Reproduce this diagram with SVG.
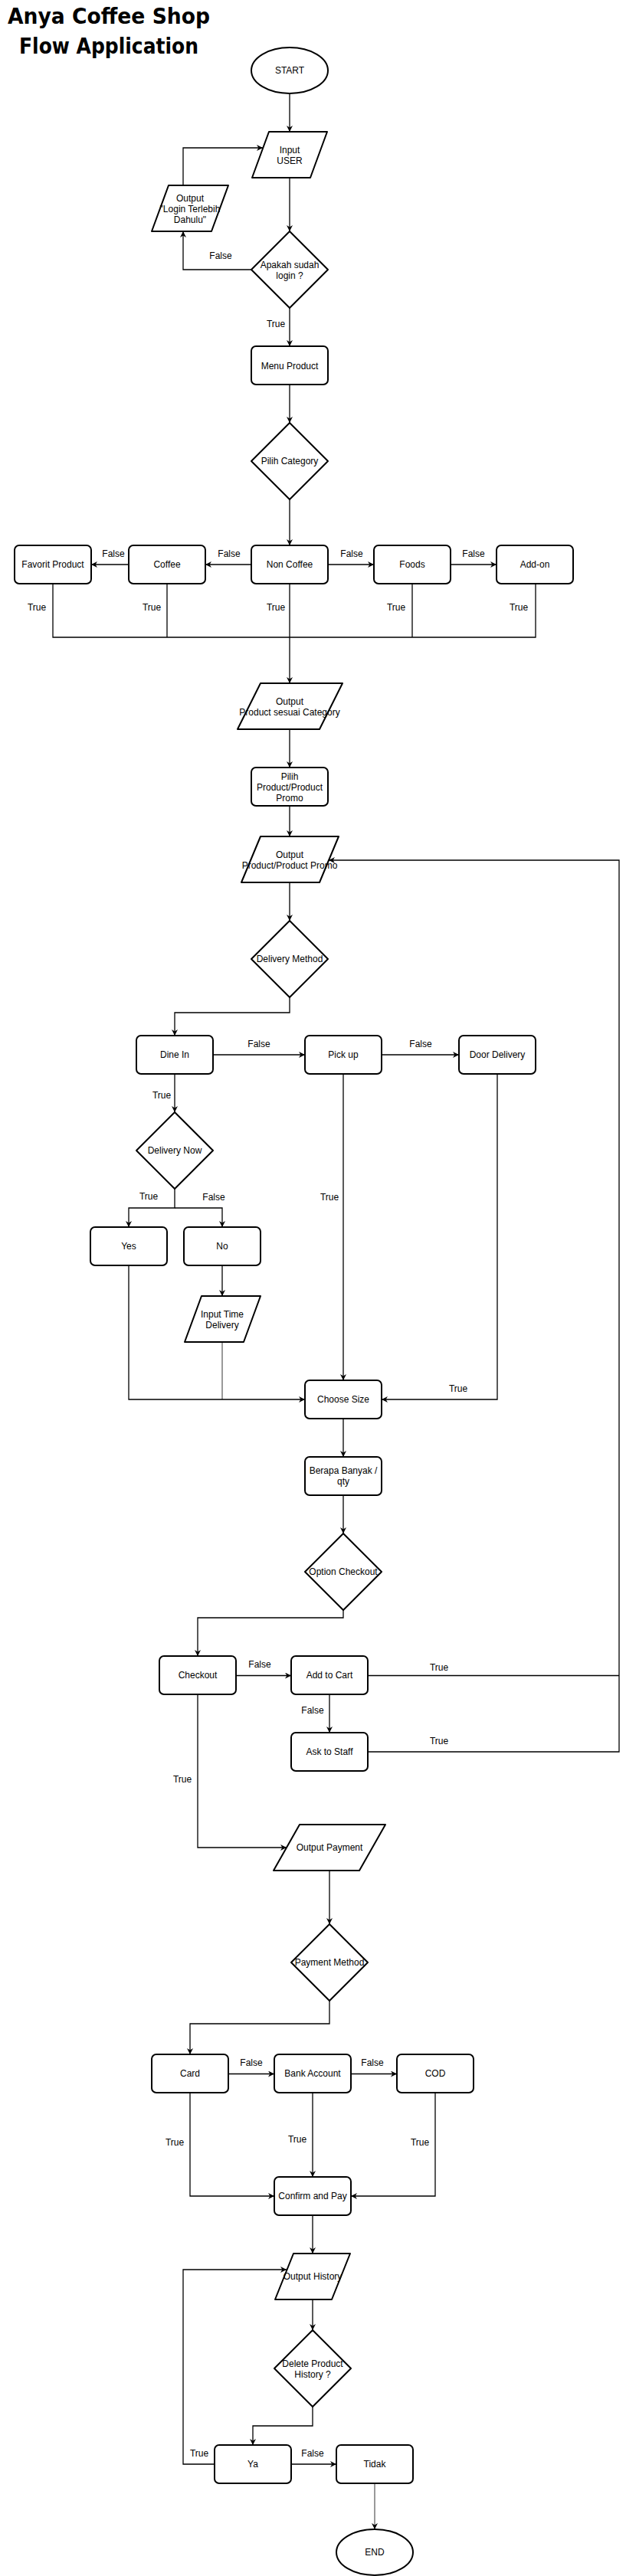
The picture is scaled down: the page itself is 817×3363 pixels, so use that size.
<svg xmlns="http://www.w3.org/2000/svg" width="817" height="3363" viewBox="0 0 817 3363">
<style>
.bg{fill:#fff}
.n{fill:#fff;stroke:#000;stroke-width:2;stroke-linejoin:round}
.t{font-family:"Liberation Sans",Arial,sans-serif;font-size:12px;text-anchor:middle;fill:#000}
.l{font-family:"Liberation Sans",Arial,sans-serif;font-size:12px;text-anchor:middle;fill:#000}
.c{fill:none;stroke:#000;stroke-width:1.3}
.thin{stroke-width:0.8}
.a{marker-end:url(#arr)}
.title{font-family:"Comic Sans MS","DejaVu Sans",sans-serif;font-size:28px;font-weight:bold;text-anchor:middle;fill:#000}
</style>
<defs>
<marker id="arr" viewBox="0 0 10 10" refX="10" refY="5" markerWidth="8" markerHeight="8" markerUnits="userSpaceOnUse" orient="auto"><path d="M0,0 L10,5 L0,10 L3,5 z" fill="#000"/></marker>
</defs>
<rect class="bg" x="0" y="0" width="817" height="3363"/>
<g id="title">
<text class="title" x="142" y="31" textLength="264" lengthAdjust="spacingAndGlyphs">Anya Coffee Shop</text>
<text class="title" x="142" y="70" textLength="234" lengthAdjust="spacingAndGlyphs">Flow Application</text>
</g>
<g id="connectors">
<path class="c a" d="M378 122 V172"/>
<path class="c a" d="M378 232 V302"/>
<path class="c a" d="M329 352 H239 V302"/>
<path class="c a" d="M239 242 V193 H343"/>
<path class="c a" d="M378 402 V452"/>
<path class="c a" d="M378 502 V552"/>
<path class="c a" d="M378 652 V712"/>
<path class="c a" d="M328 737 H268"/>
<path class="c a" d="M168 737 H119"/>
<path class="c a" d="M428 737 H488"/>
<path class="c a" d="M588 737 H648"/>
<path class="c" d="M69 762 V832 H699 V762"/>
<path class="c" d="M218 762 V832"/>
<path class="c" d="M538 762 V832"/>
<path class="c a" d="M378 762 V892"/>
<path class="c a" d="M378 952 V1002"/>
<path class="c a" d="M378 1052 V1092"/>
<path class="c a" d="M378 1152 V1202"/>
<path class="c a" d="M378 1302 V1322 H228 V1352"/>
<path class="c a" d="M278 1377 H398"/>
<path class="c a" d="M498 1377 H599"/>
<path class="c a" d="M228 1402 V1452"/>
<path class="c a" d="M228 1552 V1577 H168 V1602"/>
<path class="c a" d="M228 1577 H290 V1602"/>
<path class="c a" d="M290 1652 V1692"/>
<path class="c a" d="M168 1652 V1827 H398"/>
<path class="c thin" d="M290 1752 V1827"/>
<path class="c a" d="M448 1402 V1802"/>
<path class="c a" d="M649 1402 V1827 H498"/>
<path class="c a" d="M448 1852 V1902"/>
<path class="c a" d="M448 1952 V2002"/>
<path class="c a" d="M448 2102 V2112 H258 V2162"/>
<path class="c a" d="M308 2187.5 H380"/>
<path class="c" d="M480 2187.5 H808"/>
<path class="c a" d="M430 2212 V2262"/>
<path class="c a" d="M480 2287 H808 V1123 H429"/>
<path class="c a" d="M258 2212 V2412 H374"/>
<path class="c a" d="M430 2442 V2512"/>
<path class="c a" d="M430 2612 V2642 H248 V2682"/>
<path class="c a" d="M298 2707.5 H358"/>
<path class="c a" d="M458 2707.5 H518"/>
<path class="c a" d="M248 2732 V2867 H358"/>
<path class="c a" d="M408 2732 V2842"/>
<path class="c a" d="M568 2732 V2867 H458"/>
<path class="c a" d="M408 2892 V2942"/>
<path class="c a" d="M408 3002 V3042"/>
<path class="c a" d="M408 3142 V3167 H330 V3192"/>
<path class="c a" d="M380 3217 H439"/>
<path class="c a" d="M280 3217 H239 V2963 H374"/>
<path class="c thin a" d="M489 3242 V3302"/>
</g>
<g id="edge-labels">
<text class="l" x="288" y="338">False</text>
<text class="l" x="360" y="427">True</text>
<text class="l" x="148" y="727">False</text>
<text class="l" x="299" y="727">False</text>
<text class="l" x="459" y="727">False</text>
<text class="l" x="618" y="727">False</text>
<text class="l" x="48" y="797">True</text>
<text class="l" x="198" y="797">True</text>
<text class="l" x="360" y="797">True</text>
<text class="l" x="517" y="797">True</text>
<text class="l" x="677" y="797">True</text>
<text class="l" x="338" y="1367">False</text>
<text class="l" x="549" y="1367">False</text>
<text class="l" x="211" y="1434">True</text>
<text class="l" x="194" y="1566">True</text>
<text class="l" x="279" y="1567">False</text>
<text class="l" x="430" y="1567">True</text>
<text class="l" x="598" y="1817">True</text>
<text class="l" x="339" y="2177">False</text>
<text class="l" x="573" y="2181">True</text>
<text class="l" x="408" y="2237">False</text>
<text class="l" x="573" y="2277">True</text>
<text class="l" x="238" y="2327">True</text>
<text class="l" x="328" y="2697">False</text>
<text class="l" x="486" y="2697">False</text>
<text class="l" x="228" y="2801">True</text>
<text class="l" x="388" y="2797">True</text>
<text class="l" x="548" y="2801">True</text>
<text class="l" x="408" y="3207">False</text>
<text class="l" x="260" y="3207">True</text>
</g>
<g id="start"><ellipse class="n" cx="378" cy="92" rx="50" ry="30"/><text class="t" x="378" y="96">START</text></g>
<g id="input-user"><path class="n" d="M351 172 H427 L405 232 H329 Z"/><text class="t" x="378" y="200">Input</text><text class="t" x="378" y="214">USER</text></g>
<g id="output-login"><path class="n" d="M220 242 H298 L276 302 H198 Z"/><text class="t" x="248" y="263">Output</text><text class="t" x="248" y="277">"Login Terlebih</text><text class="t" x="248" y="291">Dahulu"</text></g>
<g id="apakah-login"><path class="n" d="M378 302 L428 352 L378 402 L328 352 Z"/><text class="t" x="378" y="350">Apakah sudah</text><text class="t" x="378" y="364">login ?</text></g>
<g id="menu-product"><rect class="n" x="328" y="452" width="100" height="50" rx="6"/><text class="t" x="378" y="482">Menu Product</text></g>
<g id="pilih-category"><path class="n" d="M378 552 L428 602 L378 652 L328 602 Z"/><text class="t" x="378" y="606">Pilih Category</text></g>
<g id="favorit-product"><rect class="n" x="19" y="712" width="100" height="50" rx="6"/><text class="t" x="69" y="741">Favorit Product</text></g>
<g id="coffee"><rect class="n" x="168" y="712" width="100" height="50" rx="6"/><text class="t" x="218" y="741">Coffee</text></g>
<g id="non-coffee"><rect class="n" x="328" y="712" width="100" height="50" rx="6"/><text class="t" x="378" y="741">Non Coffee</text></g>
<g id="foods"><rect class="n" x="488" y="712" width="100" height="50" rx="6"/><text class="t" x="538" y="741">Foods</text></g>
<g id="add-on"><rect class="n" x="648" y="712" width="100" height="50" rx="6"/><text class="t" x="698" y="741">Add-on</text></g>
<g id="output-category"><path class="n" d="M340 892 H447 L417 952 H310 Z"/><text class="t" x="378" y="920">Output</text><text class="t" x="378" y="934">Product sesuai Category</text></g>
<g id="pilih-product"><rect class="n" x="328" y="1002" width="100" height="50" rx="6"/><text class="t" x="378" y="1018">Pilih</text><text class="t" x="378" y="1032">Product/Product</text><text class="t" x="378" y="1046">Promo</text></g>
<g id="output-promo"><path class="n" d="M340 1092 H442 L417 1152 H315 Z"/><text class="t" x="378" y="1120">Output</text><text class="t" x="378" y="1134">Product/Product Promo</text></g>
<g id="delivery-method"><path class="n" d="M378 1202 L428 1252 L378 1302 L328 1252 Z"/><text class="t" x="378" y="1256">Delivery Method</text></g>
<g id="dine-in"><rect class="n" x="178" y="1352" width="100" height="50" rx="6"/><text class="t" x="228" y="1381">Dine In</text></g>
<g id="pick-up"><rect class="n" x="398" y="1352" width="100" height="50" rx="6"/><text class="t" x="448" y="1381">Pick up</text></g>
<g id="door-delivery"><rect class="n" x="599" y="1352" width="100" height="50" rx="6"/><text class="t" x="649" y="1381">Door Delivery</text></g>
<g id="delivery-now"><path class="n" d="M228 1452 L278 1502 L228 1552 L178 1502 Z"/><text class="t" x="228" y="1506">Delivery Now</text></g>
<g id="yes"><rect class="n" x="118" y="1602" width="100" height="50" rx="6"/><text class="t" x="168" y="1631">Yes</text></g>
<g id="no"><rect class="n" x="240" y="1602" width="100" height="50" rx="6"/><text class="t" x="290" y="1631">No</text></g>
<g id="input-time"><path class="n" d="M263 1692 H340 L318 1752 H241 Z"/><text class="t" x="290" y="1720">Input Time</text><text class="t" x="290" y="1734">Delivery</text></g>
<g id="choose-size"><rect class="n" x="398" y="1802" width="100" height="50" rx="6"/><text class="t" x="448" y="1831">Choose Size</text></g>
<g id="berapa-banyak"><rect class="n" x="398" y="1902" width="100" height="50" rx="6"/><text class="t" x="448" y="1924">Berapa Banyak /</text><text class="t" x="448" y="1938">qty</text></g>
<g id="option-checkout"><path class="n" d="M448 2002 L498 2052 L448 2102 L398 2052 Z"/><text class="t" x="448" y="2056">Option Checkout</text></g>
<g id="checkout"><rect class="n" x="208" y="2162" width="100" height="50" rx="6"/><text class="t" x="258" y="2191">Checkout</text></g>
<g id="add-to-cart"><rect class="n" x="380" y="2162" width="100" height="50" rx="6"/><text class="t" x="430" y="2191">Add to Cart</text></g>
<g id="ask-to-staff"><rect class="n" x="380" y="2262" width="100" height="50" rx="6"/><text class="t" x="430" y="2291">Ask to Staff</text></g>
<g id="output-payment"><path class="n" d="M391 2382 H503 L469 2442 H357 Z"/><text class="t" x="430" y="2416">Output Payment</text></g>
<g id="payment-method"><path class="n" d="M430 2512 L480 2562 L430 2612 L380 2562 Z"/><text class="t" x="430" y="2566">Payment Method</text></g>
<g id="card"><rect class="n" x="198" y="2682" width="100" height="50" rx="6"/><text class="t" x="248" y="2711">Card</text></g>
<g id="bank-account"><rect class="n" x="358" y="2682" width="100" height="50" rx="6"/><text class="t" x="408" y="2711">Bank Account</text></g>
<g id="cod"><rect class="n" x="518" y="2682" width="100" height="50" rx="6"/><text class="t" x="568" y="2711">COD</text></g>
<g id="confirm-pay"><rect class="n" x="358" y="2842" width="100" height="50" rx="6"/><text class="t" x="408" y="2871">Confirm and Pay</text></g>
<g id="output-history"><path class="n" d="M383 2942 H457 L433 3002 H359 Z"/><text class="t" x="408" y="2976">Output History</text></g>
<g id="delete-history"><path class="n" d="M408 3042 L458 3092 L408 3142 L358 3092 Z"/><text class="t" x="408" y="3090">Delete Product</text><text class="t" x="408" y="3104">History ?</text></g>
<g id="ya"><rect class="n" x="280" y="3192" width="100" height="50" rx="6"/><text class="t" x="330" y="3221">Ya</text></g>
<g id="tidak"><rect class="n" x="439" y="3192" width="100" height="50" rx="6"/><text class="t" x="489" y="3221">Tidak</text></g>
<g id="end"><ellipse class="n" cx="489" cy="3332" rx="50" ry="30"/><text class="t" x="489" y="3336">END</text></g>
</svg>
